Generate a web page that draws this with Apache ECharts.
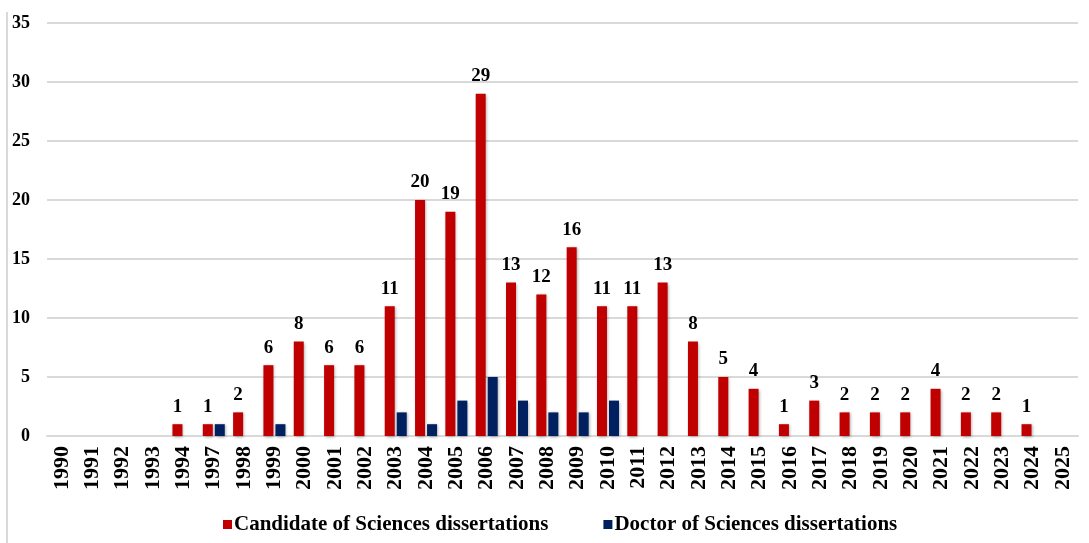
<!DOCTYPE html>
<html><head><meta charset="utf-8">
<script src="https://cdn.jsdelivr.net/npm/echarts@6/dist/echarts.min.js"></script>
<style>html,body{margin:0;padding:0;background:#fff}#c{width:1089px;height:543px}</style>
</head><body><div id="c"></div>
<script>
const years = ['1990','1991','1992','1993','1994','1997','1998','1999','2000','2001','2002','2003','2004','2005','2006','2007','2008','2009','2010','2011','2012','2013','2014','2015','2016','2017','2018','2019','2020','2021','2022','2023','2024','2025'];
const candidate = [0,0,0,0,1,1,2,6,8,6,6,11,20,19,29,13,12,16,11,11,13,8,5,4,1,3,2,2,2,4,2,2,1,0];
const doctor = [0,0,0,0,0,1,0,1,0,0,0,2,1,3,5,3,2,2,3,0,0,0,0,0,0,0,0,0,0,0,0,0,0,0];
const yTicks = {min:0, max:35, interval:5};

const font = '"Liberation Serif", "Times New Roman", serif';
const chart = echarts.init(document.getElementById('c'));
chart.setOption({
  animation:false,
  backgroundColor:'#fff',
  textStyle:{fontFamily:font},
  grid:{left:47, right:11, top:23, bottom:107, containLabel:false},
  graphic:[{type:'line', shape:{x1:7,y1:12,x2:7,y2:543}, style:{stroke:'#d9d9d9', lineWidth:2}}],
  legend:{
    top:509, left:218, itemWidth:9, itemHeight:9, itemGap:55, icon:'rect',
    textStyle:{fontFamily:font, fontWeight:'bold', fontSize:21, color:'#000', padding:[0,0,0,-3]},
    data:['Candidate of Sciences dissertations','Doctor of Sciences dissertations']
  },
  xAxis:{
    type:'category', data:years,
    axisLine:{lineStyle:{color:'#d9d9d9', width:2}},
    axisTick:{show:false},
    axisLabel:{rotate:90, fontFamily:font, fontWeight:'bold', fontSize:22, color:'#000', margin:10, interval:0}
  },
  yAxis:{
    type:'value', min:yTicks.min, max:yTicks.max, interval:yTicks.interval,
    axisLine:{show:false}, axisTick:{show:false},
    splitLine:{lineStyle:{color:'#d9d9d9', width:2}},
    axisLabel:{fontFamily:font, fontWeight:'bold', fontSize:18, color:'#000', margin:17}
  },
  series:[
    {name:'Candidate of Sciences dissertations', type:'bar', data:candidate, barWidth:10, barGap:'20%',
     itemStyle:{color:'#C00000', shadowBlur:3, shadowColor:'rgba(0,0,0,0.35)', shadowOffsetX:1, shadowOffsetY:1},
     label:{show:true, position:'top', distance:8, fontFamily:font, fontWeight:'bold', fontSize:19, color:'#000',
       formatter:p=>p.value>0?p.value:''}},
    {name:'Doctor of Sciences dissertations', type:'bar', data:doctor, barWidth:10,
     itemStyle:{color:'#002060', shadowBlur:3, shadowColor:'rgba(0,0,0,0.35)', shadowOffsetX:1, shadowOffsetY:1}}
  ]
});
</script></body></html>
